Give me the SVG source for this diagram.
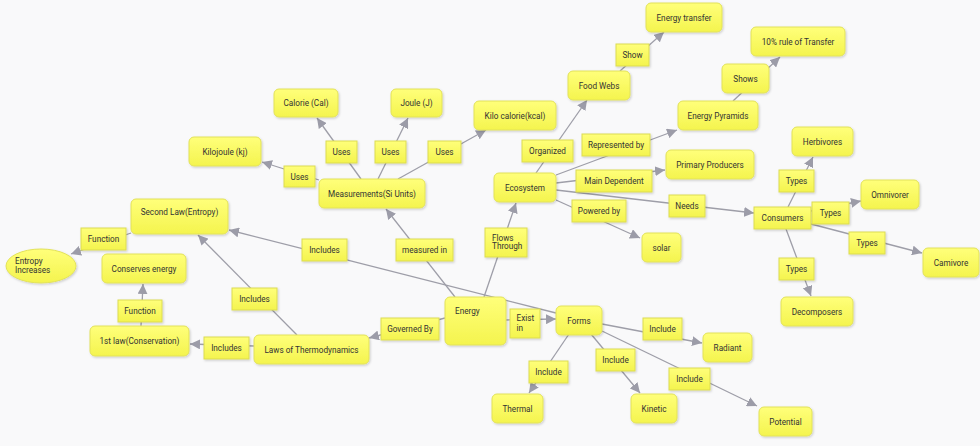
<svg xmlns="http://www.w3.org/2000/svg" width="980" height="446" viewBox="0 0 980 446">
<defs>
<linearGradient id="yg" x1="0" y1="0" x2="0" y2="1">
<stop offset="0" stop-color="#ffff7a"/>
<stop offset="1" stop-color="#f4f44e"/>
</linearGradient>
<filter id="sh" x="-10%" y="-10%" width="130%" height="140%">
<feDropShadow dx="1" dy="1.2" stdDeviation="0.8" flood-color="#000" flood-opacity="0.18"/>
</filter>
<marker id="ar" viewBox="0 0 10 10" refX="10" refY="5" markerWidth="10" markerHeight="10" markerUnits="userSpaceOnUse" orient="auto">
<path d="M0,0 L10,5 L0,10 z" fill="#9c9ca8"/>
</marker>
</defs>
<style>
.n{fill:url(#yg);stroke:#e2e25a;stroke-width:1;filter:url(#sh)}
.l{fill:url(#yg);stroke:#dcdc52;stroke-width:1;filter:url(#sh)}
text{font-family:Roboto,"Liberation Sans",sans-serif;font-size:8.2px;fill:#333333;text-anchor:middle}
.s{text-anchor:start}
.c line{stroke:#9e9ea8;stroke-width:1.3;marker-end:url(#ar)}
</style>
<rect x="0" y="0" width="980" height="446" fill="#f9f9fa"/>
<g class="c" id="connectors">
<line x1="455" y1="297" x2="386" y2="209"/>
<line x1="484" y1="297" x2="516" y2="203"/>
<line x1="445" y1="318" x2="369" y2="338"/>
<line x1="505" y1="320" x2="556" y2="319"/>
<line x1="254" y1="346" x2="190" y2="344"/>
<line x1="297" y1="335" x2="198" y2="235"/>
<line x1="556" y1="313" x2="229" y2="230"/>
<line x1="131" y1="233" x2="71" y2="254"/>
<line x1="141" y1="326" x2="143" y2="284"/>
<line x1="319" y1="180" x2="262" y2="162"/>
<line x1="361" y1="179" x2="317" y2="118"/>
<line x1="378" y1="179" x2="408" y2="118"/>
<line x1="398" y1="179" x2="486" y2="130"/>
<line x1="536" y1="173" x2="587" y2="100"/>
<line x1="620" y1="71" x2="664" y2="32"/>
<line x1="556" y1="175" x2="677" y2="130"/>
<line x1="733" y1="101" x2="780" y2="57"/>
<line x1="556" y1="183" x2="665" y2="170"/>
<line x1="556" y1="190" x2="754" y2="213"/>
<line x1="556" y1="200" x2="640" y2="238"/>
<line x1="788" y1="207" x2="813" y2="157"/>
<line x1="811" y1="211" x2="861" y2="201"/>
<line x1="811" y1="224" x2="922" y2="253"/>
<line x1="786" y1="229" x2="811" y2="296"/>
<line x1="569" y1="334" x2="529" y2="393"/>
<line x1="591" y1="334" x2="640" y2="393"/>
<line x1="602" y1="324" x2="702" y2="343"/>
<line x1="602" y1="331" x2="757" y2="406"/>
</g>
<g id="energy"><rect class="n" x="445" y="297" width="61" height="48" rx="5"/><text class="s" x="455" y="314">Energy</text></g>
<g id="energy-transfer"><rect class="n" x="646" y="3" width="76" height="29" rx="5"/><text x="684" y="20.5">Energy transfer</text></g>
<g id="ten-percent"><rect class="n" x="751" y="27" width="94" height="29" rx="5"/><text x="798" y="44.5">10% rule of Transfer</text></g>
<g id="shows"><rect class="n" x="722" y="64" width="47" height="29" rx="5"/><text x="745.5" y="81.5">Shows</text></g>
<g id="food-webs"><rect class="n" x="568" y="71" width="62" height="29" rx="5"/><text x="599" y="88.5">Food Webs</text></g>
<g id="energy-pyramids"><rect class="n" x="678" y="101" width="80" height="29" rx="5"/><text x="718" y="118.5">Energy Pyramids</text></g>
<g id="calorie"><rect class="n" x="274" y="89" width="64" height="28" rx="5"/><text x="306" y="106">Calorie (Cal)</text></g>
<g id="joule"><rect class="n" x="391" y="89" width="51" height="28" rx="5"/><text x="416.5" y="106">Joule (J)</text></g>
<g id="kilocalorie"><rect class="n" x="474" y="101" width="82" height="29" rx="5"/><text x="515" y="118.5">Kilo calorie(kcal)</text></g>
<g id="kilojoule"><rect class="n" x="189" y="137" width="72" height="29" rx="5"/><text x="225" y="154.5">Kilojoule (kj)</text></g>
<g id="measurements"><rect class="n" x="319" y="179" width="106" height="29" rx="5"/><text x="372" y="196.5">Measurements(Si Units)</text></g>
<g id="ecosystem"><rect class="n" x="494" y="173" width="62" height="29" rx="5"/><text x="525" y="190.5">Ecosystem</text></g>
<g id="primary-producers"><rect class="n" x="666" y="150" width="88" height="29" rx="5"/><text x="710" y="167.5">Primary Producers</text></g>
<g id="herbivores"><rect class="n" x="792" y="127" width="61" height="29" rx="5"/><text x="822.5" y="144.5">Herbivores</text></g>
<g id="omnivorer"><rect class="n" x="861" y="180" width="58" height="29" rx="5"/><text x="890" y="197.5">Omnivorer</text></g>
<g id="second-law"><rect class="n" x="131" y="199" width="97" height="35" rx="5"/><text x="179.5" y="215">Second Law(Entropy)</text></g>
<g id="entropy-increases"><ellipse class="n" cx="41" cy="266" rx="35" ry="17"/><text class="s" x="15" y="264">Entropy</text><text class="s" x="15" y="272.5">Increases</text></g>
<g id="conserves-energy"><rect class="n" x="102" y="254" width="84" height="29" rx="5"/><text x="144" y="271.5">Conserves energy</text></g>
<g id="first-law"><rect class="n" x="90" y="326" width="99" height="30" rx="5"/><text x="139.5" y="344">1st law(Conservation)</text></g>
<g id="laws"><rect class="n" x="254" y="335" width="115" height="29" rx="5"/><text x="311.5" y="352.5">Laws of Thermodynamics</text></g>
<g id="forms"><rect class="n" x="556" y="306" width="46" height="29" rx="5"/><text x="579" y="323.5">Forms</text></g>
<g id="solar"><rect class="n" x="642" y="233" width="39" height="29" rx="5"/><text x="661.5" y="250.5">solar</text></g>
<g id="carnivore"><rect class="n" x="923" y="248" width="56" height="29" rx="5"/><text x="951" y="265.5">Camivore</text></g>
<g id="decomposers"><rect class="n" x="781" y="297" width="72" height="29" rx="5"/><text x="817" y="314.5">Decomposers</text></g>
<g id="radiant"><rect class="n" x="703" y="333" width="49" height="29" rx="5"/><text x="727.5" y="350.5">Radiant</text></g>
<g id="thermal"><rect class="n" x="492" y="394" width="51" height="29" rx="5"/><text x="517.5" y="411.5">Thermal</text></g>
<g id="kinetic"><rect class="n" x="631" y="394" width="46" height="29" rx="5"/><text x="654" y="411.5">Kinetic</text></g>
<g id="potential"><rect class="n" x="759" y="407" width="53" height="29" rx="5"/><text x="785.5" y="424.5">Potential</text></g>
<g id="consumers"><rect class="l" x="754" y="207" width="57" height="22"/><text x="782.5" y="221">Consumers</text></g>
<g id="lbl-show"><rect class="l" x="616" y="44" width="33" height="22"/><text x="632.5" y="58">Show</text></g>
<g id="lbl-uses-kj"><rect class="l" x="284" y="166" width="31" height="21"/><text x="299.5" y="179.5">Uses</text></g>
<g id="lbl-uses-cal"><rect class="l" x="326" y="141" width="31" height="22"/><text x="341.5" y="155">Uses</text></g>
<g id="lbl-uses-j"><rect class="l" x="375" y="141" width="31" height="22"/><text x="390.5" y="155">Uses</text></g>
<g id="lbl-uses-kcal"><rect class="l" x="428" y="141" width="33" height="22"/><text x="444.5" y="155">Uses</text></g>
<g id="lbl-organized"><rect class="l" x="522" y="140" width="51" height="22"/><text x="547.5" y="154">Organized</text></g>
<g id="lbl-represented"><rect class="l" x="582" y="134" width="68" height="22"/><text x="616" y="148">Represented by</text></g>
<g id="lbl-main-dependent"><rect class="l" x="576" y="170" width="76" height="22"/><text x="614" y="184">Main Dependent</text></g>
<g id="lbl-powered"><rect class="l" x="572" y="200" width="54" height="22"/><text x="599" y="214">Powered by</text></g>
<g id="lbl-needs"><rect class="l" x="669" y="195" width="36" height="22"/><text x="687" y="209">Needs</text></g>
<g id="lbl-types-herb"><rect class="l" x="779" y="170" width="35" height="22"/><text x="796.5" y="184">Types</text></g>
<g id="lbl-types-omni"><rect class="l" x="812" y="202" width="37" height="22"/><text x="830.5" y="216">Types</text></g>
<g id="lbl-types-carn"><rect class="l" x="849" y="232" width="36" height="22"/><text x="867" y="246">Types</text></g>
<g id="lbl-types-decomp"><rect class="l" x="779" y="258" width="35" height="22"/><text x="796.5" y="272">Types</text></g>
<g id="lbl-function-entropy"><rect class="l" x="81" y="228" width="45" height="22"/><text x="103.5" y="242">Function</text></g>
<g id="lbl-function-cons"><rect class="l" x="118" y="300" width="44" height="22"/><text x="140" y="314">Function</text></g>
<g id="lbl-includes-first"><rect class="l" x="204" y="337" width="45" height="22"/><text x="226.5" y="351">Includes</text></g>
<g id="lbl-includes-second"><rect class="l" x="232" y="288" width="45" height="22"/><text x="254.5" y="302">Includes</text></g>
<g id="lbl-includes-forms"><rect class="l" x="302" y="239" width="45" height="22"/><text x="324.5" y="253">Includes</text></g>
<g id="lbl-measured"><rect class="l" x="396" y="239" width="57" height="22"/><text x="424.5" y="253">measured in</text></g>
<g id="lbl-flows"><rect class="l" x="485" y="228" width="42" height="29"/><text class="s" x="492" y="240.5">Flows</text><text class="s" x="492" y="249">Through</text></g>
<g id="lbl-governed"><rect class="l" x="381" y="318" width="58" height="22"/><text x="410" y="332">Governed By</text></g>
<g id="lbl-exist"><rect class="l" x="510" y="309" width="30" height="29"/><text class="s" x="516.5" y="321">Exist</text><text class="s" x="516.5" y="330.5">in</text></g>
<g id="lbl-include-thermal"><rect class="l" x="529" y="361" width="39" height="22"/><text x="548.5" y="375">Include</text></g>
<g id="lbl-include-kinetic"><rect class="l" x="596" y="349" width="39" height="22"/><text x="615.5" y="363">Include</text></g>
<g id="lbl-include-radiant"><rect class="l" x="643" y="318" width="39" height="22"/><text x="662.5" y="332">Include</text></g>
<g id="lbl-include-potential"><rect class="l" x="669" y="368" width="41" height="22"/><text x="689.5" y="382">Include</text></g>
</svg>
